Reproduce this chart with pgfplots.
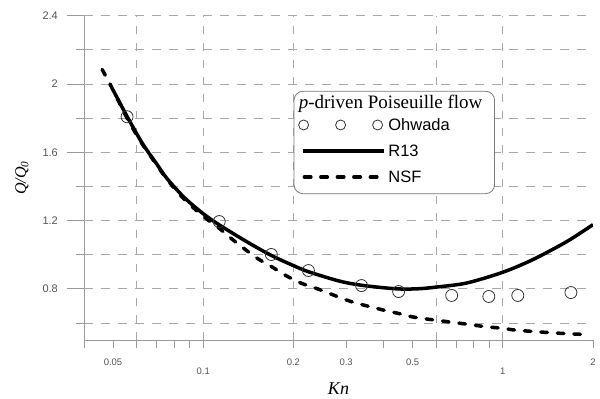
\documentclass[border=0pt]{standalone}
\usepackage{fontspec}
\setmainfont{Liberation Sans}
\newfontfamily\tnr{Liberation Serif}
\usepackage{pgfplots}
\pgfplotsset{compat=1.18}
\definecolor{gridc}{HTML}{A8A8A8}
\definecolor{axc}{HTML}{9A9A9A}
\definecolor{tickc}{HTML}{555555}
\definecolor{legc}{HTML}{7A7A7A}
\pgfplotstableread{
x y
0.0557 1.808
0.1131 1.194
0.1688 1.001
0.2245 0.907
0.3376 0.819
0.449 0.784
0.675 0.761
0.898 0.755
1.122 0.761
1.688 0.778
}\ohwada
\pgfplotstableread{
x y
0.05 1.965
0.0557 1.81
0.0625 1.655
0.0697 1.535
0.0758 1.445
0.0864 1.335
0.1 1.24
0.113 1.175
0.14 1.075
0.169 0.995
0.2 0.936
0.2245 0.90
0.285 0.845
0.34 0.82
0.44 0.80
0.52 0.80
0.6 0.81
0.758 0.834
1.0 0.897
1.26 0.971
1.64 1.078
2.0 1.176
}\rthirteen
\pgfplotstableread{
x y
0.046 2.085
0.05 1.965
0.0557 1.80
0.0625 1.65
0.0697 1.53
0.0758 1.44
0.0864 1.325
0.1 1.225
0.113 1.155
0.124 1.095
0.137 1.035
0.152 0.977
0.169 0.93
0.19 0.875
0.213 0.832
0.245 0.795
0.308 0.728
0.394 0.678
0.45 0.655
0.508 0.633
0.655 0.607
0.758 0.593
0.857 0.58
1.0 0.568
1.1 0.558
1.26 0.55
1.44 0.543
1.64 0.537
1.9 0.532
}\nsf
\begin{document}
\begin{tikzpicture}
\useasboundingbox (0,0) rectangle (600pt,399pt);
\begin{axis}[
  at={(84pt,59pt)}, anchor=south west,
  scale only axis, width=509pt, height=324.3pt,
  xmode=log, xmin=0.04, xmax=2, ymin=0.5, ymax=2.4,
  axis x line*=bottom, axis y line*=left,
  axis line style={axc, line width=0.8pt, -},
  tick align=outside,
  tick style={axc, line width=0.8pt},
  major tick length=8pt, minor tick length=8pt,
  /pgf/number format/assume math mode=true,
  xtick={0.05,0.2,0.3,0.5,2}, xticklabels={0.05,0.2,0.3,0.5,2},
  minor xtick={0.04,0.06,0.07,0.08,0.09,0.4,0.6,0.7,0.8,0.9},
  extra x ticks={0.1,1}, extra x tick labels={0.1,1},
  extra x tick style={grid=none, xticklabel style={yshift=-9pt}},
  xticklabel style={font=\fontsize{9.5}{9.5}\selectfont, color=tickc, anchor=north, inner sep=0pt, yshift=-10.5pt},
  ytick={0.6,1,1.4,1.8,2.2}, yticklabels={},
  extra y ticks={0.8,1.2,1.6,2,2.4}, extra y tick labels={0.8,1.2,1.6,2,2.4},
  extra y tick style={grid=major, major tick length=17pt},
  yticklabel style={font=\fontsize{11}{11}\selectfont, color=tickc, anchor=east, inner sep=0pt, xshift=-9pt},
  ymajorgrids=true,
  major grid style={gridc, line width=0.8pt, dash pattern=on 9pt off 8pt},
  every axis x label/.style={at={(axis description cs:0.5,-0.150)}, anchor=center},
  every axis y label/.style={at={(axis description cs:-0.122,0.5)}, rotate=90, anchor=center},
  xlabel={\tnr\itshape\fontsize{18}{18}\selectfont Kn},
  ylabel={\tnr\itshape\fontsize{16}{16}\selectfont Q/Q\textsubscript{0}},
  legend cell align=left,
  legend style={at={(axis description cs:0.4126,0.767)}, anchor=north west,
    draw=none, fill=white, name=leg,
    inner xsep=4pt, inner ysep=1.4pt, column sep=3pt, row sep=13.8pt,
    nodes={inner sep=0pt, text height=12pt, text depth=0.2pt, anchor=west},
    font=\fontsize{16.5}{16.5}\selectfont},
]
\pgfplotsinvokeforeach{0.06,0.1,0.2,0.6,1,2}{
  \draw[gridc, line width=0.8pt, dash pattern=on 8pt off 9pt] (axis cs:#1,0.5) -- (axis cs:#1,2.4);
}
\addplot[black, line width=3.5pt, smooth, forget plot] table[x=x,y=y] {\rthirteen};
\addplot[black, line width=3.5pt, smooth, dash pattern=on 6.5pt off 10pt, line cap=round, forget plot] table[x=x,y=y] {\nsf};
\addplot[only marks, mark=o, mark size=6pt, mark options={draw=black!80, line width=0.8pt}, forget plot] table[x=x,y=y] {\ohwada};
\addlegendimage{legend image code/.code={\node[overlay, draw=none, anchor=west, inner sep=0pt, text height=, text depth=] at (0pt,-4.5pt) {\tnr\fontsize{19}{19}\selectfont\textit{p}-driven Poiseuille flow};}}
\addlegendentry{\hspace*{102pt}}
\addlegendimage{legend image code/.code={\draw[black!80, line width=0.8pt] (5pt,0pt) circle (5pt) (42pt,0pt) circle (5pt) (79pt,0pt) circle (5pt);}}
\addlegendentry{Ohwada}
\addlegendimage{legend image code/.code={\draw[black, line width=3.5pt] (4pt,0pt) -- (85pt,0pt);}}
\addlegendentry{R13}
\addlegendimage{legend image code/.code={\draw[black, line width=3.5pt, dash pattern=on 6.5pt off 10pt, line cap=round] (5.75pt,0pt) -- (78.25pt,0pt); \path[draw=none, fill=none] (0pt,0pt) -- (0pt,-15.1pt);}}
\addlegendentry{NSF}
\end{axis}
\draw[legc, line width=0.8pt, rounded corners=9pt] (leg.south west) rectangle (leg.north east);
\end{tikzpicture}
\end{document}
